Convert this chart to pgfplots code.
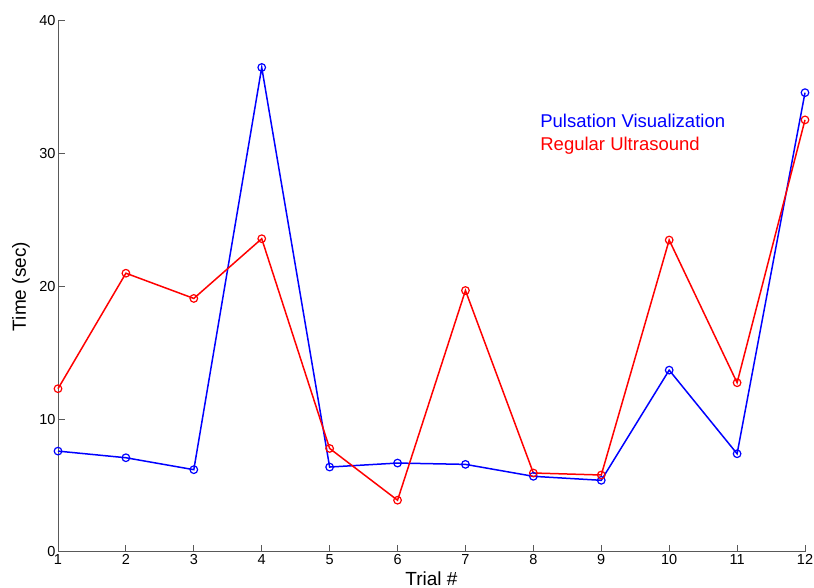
\documentclass[border=0pt]{standalone}
\usepackage{fontspec}
\setmainfont{Liberation Sans}
\usepackage{pgfplots}
\pgfplotsset{compat=1.18}
\begin{document}
\begin{tikzpicture}
\begin{axis}[
  at={(58pt,36pt)}, anchor=south west,
  scale only axis, width=747pt, height=531pt,
  xmin=1, xmax=12, ymin=0, ymax=40,
  axis x line=bottom, axis y line=left,
  axis line style={-, draw=black!65, line width=1pt},
  tick style={draw=black!65, line width=1pt},
  tick align=inside, major tick length=7pt,
  xtick={1,...,12}, ytick={0,10,20,30,40},
  /pgf/number format/assume math mode=true,
  ticklabel style={font=\fontsize{14.5}{16}\selectfont},
  xticklabel style={yshift=1pt},
  yticklabel style={xshift=1pt},
  xlabel={Trial \#}, ylabel={Time (sec)},
  every axis label/.append style={font=\fontsize{19}{22}\selectfont},
  xlabel style={at={(axis description cs:0.5,0)}, anchor=north, yshift=-16pt},
  ylabel style={at={(axis description cs:0,0.5)}, anchor=center, yshift=37pt},
  clip=false,
]
\addplot[blue, line width=1.5pt, mark=o, mark size=3.8pt, mark options={line width=1.2pt}] coordinates {
(1,7.6) (2,7.1) (3,6.2) (4,36.5) (5,6.4) (6,6.7) (7,6.6) (8,5.7) (9,5.4) (10,13.7) (11,7.4) (12,34.6)};
\addplot[red, line width=1.5pt, mark=o, mark size=3.8pt, mark options={line width=1.2pt}] coordinates {
(1,12.3) (2,21.0) (3,19.1) (4,23.6) (5,7.8) (6,3.9) (7,19.7) (8,5.95) (9,5.8) (10,23.5) (11,12.75) (12,32.55)};
\node[anchor=west, text=blue, font=\fontsize{18.5}{21}\selectfont, inner sep=0pt] at (axis cs:8.1,32.5) {Pulsation Visualization};
\node[anchor=west, text=red, font=\fontsize{18.5}{21}\selectfont, inner sep=0pt] at (axis cs:8.1,30.6) {Regular Ultrasound};
\end{axis}
\pgfresetboundingbox
\path (0,0) rectangle (814pt,588pt);
\end{tikzpicture}
\end{document}
